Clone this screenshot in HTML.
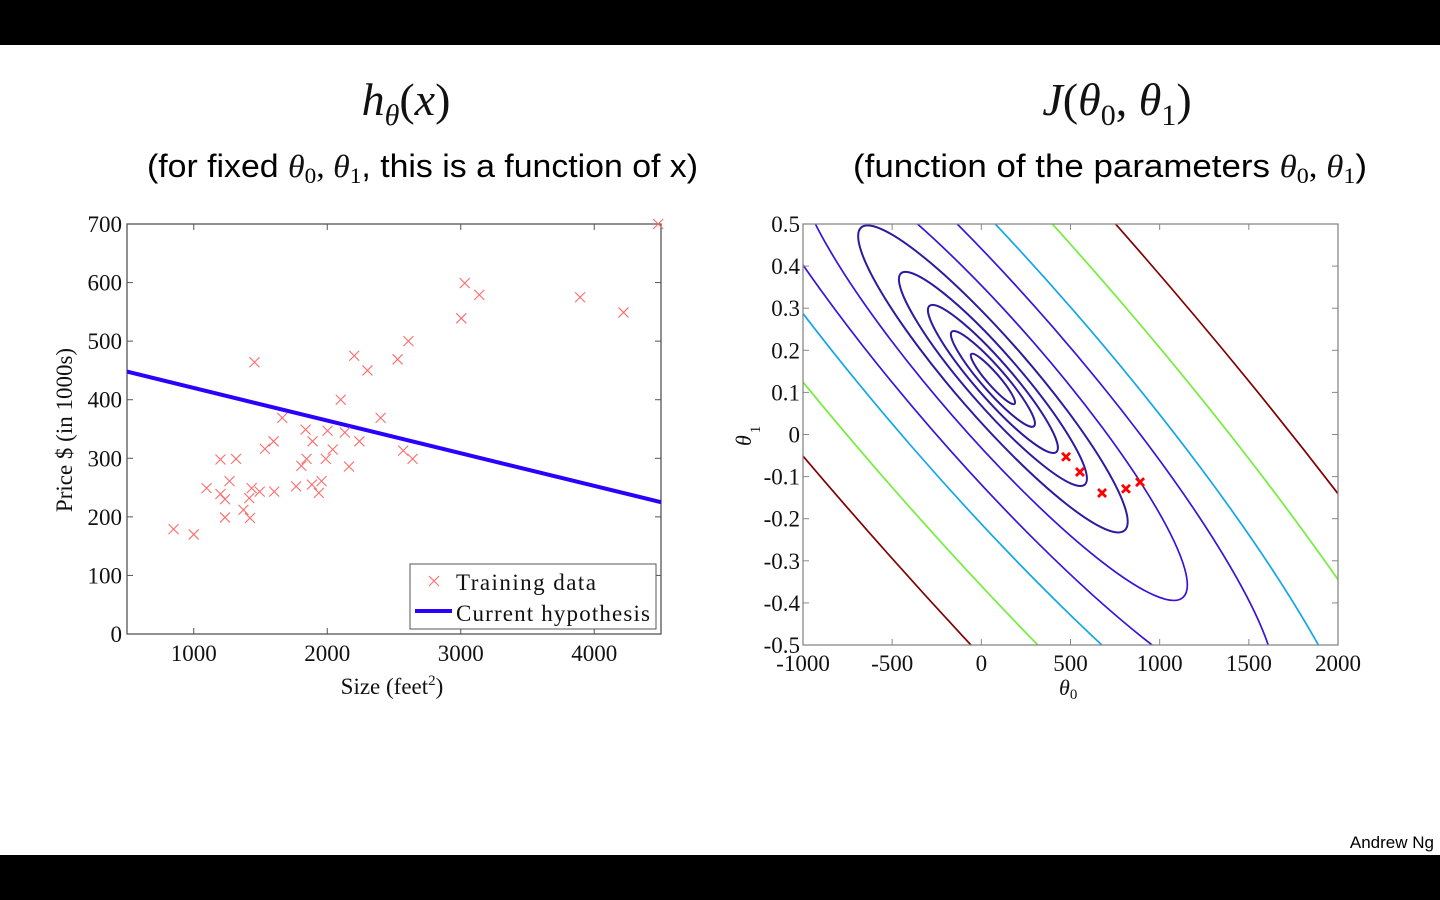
<!DOCTYPE html>
<html><head><meta charset="utf-8"><style>
html,body{margin:0;padding:0;background:#fff;width:1440px;height:900px;overflow:hidden}
svg{display:block;position:absolute;left:0;top:0}
.tk{font-family:"Liberation Serif",serif;font-size:23px;fill:#111}
.mt{font-family:"Liberation Serif",serif;font-style:italic;fill:#111}
.sb{font-family:"Liberation Sans",sans-serif;font-size:32px;fill:#000}
</style></head><body>
<svg id="s" width="1440" height="900" viewBox="0 0 1440 900" xmlns="http://www.w3.org/2000/svg">
<defs>
<clipPath id="cl"><rect x="127" y="224" width="534" height="410"/></clipPath>
<clipPath id="cr"><rect x="803" y="224" width="535" height="421"/></clipPath>
</defs>
<rect x="0" y="0" width="1440" height="45" fill="#000"/>
<rect x="0" y="855" width="1440" height="45" fill="#000"/>
<text x="406" y="115" text-anchor="middle" class="mt" font-size="46">h<tspan font-size="30" dy="10">θ</tspan><tspan dy="-10" font-style="normal">(</tspan>x<tspan font-style="normal">)</tspan></text>
<text x="147" y="177" textLength="551" lengthAdjust="spacingAndGlyphs" class="sb">(for fixed <tspan class="mt" font-size="32">θ</tspan><tspan font-family="Liberation Serif" font-size="22" dy="6">0</tspan><tspan dy="-6" font-family="Liberation Serif">, </tspan><tspan class="mt" font-size="32">θ</tspan><tspan font-family="Liberation Serif" font-size="22" dy="6">1</tspan><tspan dy="-6">, this is a function of x)</tspan></text>
<text x="1117" y="115" text-anchor="middle" class="mt" font-size="46">J<tspan font-style="normal">(</tspan>θ<tspan font-size="30" font-style="normal" dy="10">0</tspan><tspan dy="-10" font-style="normal">, </tspan>θ<tspan font-size="30" font-style="normal" dy="10">1</tspan><tspan dy="-10" font-style="normal">)</tspan></text>
<text x="853" y="177" textLength="514" lengthAdjust="spacingAndGlyphs" class="sb">(function of the parameters  <tspan class="mt" font-size="32">θ</tspan><tspan font-family="Liberation Serif" font-size="22" dy="6">0</tspan><tspan dy="-6" font-family="Liberation Serif">, </tspan><tspan class="mt" font-size="32">θ</tspan><tspan font-family="Liberation Serif" font-size="22" dy="6">1</tspan><tspan dy="-6">)</tspan></text>
<text x="1434" y="848" text-anchor="end" font-family="Liberation Sans, sans-serif" font-size="17" fill="#000">Andrew Ng</text>
<g id="L"></g>
<g id="R"></g>
</svg>
<script>
// ---- left chart data ----
const sizes=[849,1000,1096,1200,1317,1200,1234,1268,1234,1372,1421,1416,1434,1494,1603,1455,1533,1598,1663,1767,1806,1845,1838,1890,1885,1937,1957,1989,2002,2041,2101,2132,2163,2202,2241,2301,2400,2527,2569,2608,2639,3004,3030,3139,3894,4219,4479];
const prices=[179,170,249,298,299,239,230,261,199,212,198,232,249,243,243,464,316,329,369,252,287,299,349,329,255,241,261,299,347,315,400,344,286,475,329,450,369,469,313,500,299,539,599,579,575,549,700];
const hypX=[500,4500];
const hypY=[448,225];
const xTicksL=[1000,2000,3000,4000];
const yTicksL=[0,100,200,300,400,500,600,700];
// ---- right chart data ----
const center=[65,0.132];
const levels=[1,3.6,8.6,18,37,77,162,288,559,974];
const levelColors=["#2e1a9e","#2e1a9e","#2e1a9e","#2e1a9e","#2e1a9e","#3a12dc","#3a12dc","#12a6ea","#74ee3c","#800000"];
const steps0=[475,553,677,811,890];
const steps1=[-0.053,-0.089,-0.139,-0.129,-0.113];
const xTicksR=[-1000,-500,0,500,1000,1500,2000];
const yTicksR=[0.5,0.4,0.3,0.2,0.1,0,-0.1,-0.2,-0.3,-0.4,-0.5];

const NS="http://www.w3.org/2000/svg";
function mk(p,t,a){const e=document.createElementNS(NS,t);for(const k in a)e.setAttribute(k,a[k]);p.appendChild(e);return e;}
const xL=v=>127+(v-500)/4000*534, yL=v=>634-v/700*410;
const xR=v=>803+(v+1000)/3000*535, yR=v=>224+(0.5-v)*421;

const L=document.getElementById('L');
let bx=mk(L,'rect',{x:127,y:224,width:534,height:410,fill:'none',stroke:'#555','stroke-width':1.3});


xTicksL.forEach(v=>{const x=xL(v);mk(L,'line',{x1:x,y1:634,x2:x,y2:628,stroke:'#555'});mk(L,'line',{x1:x,y1:224,x2:x,y2:230,stroke:'#555'});
 const t=mk(L,'text',{x:x,y:661,'text-anchor':'middle',class:'tk'});t.textContent=v;
 
 });
yTicksL.forEach(v=>{const y=yL(v);mk(L,'line',{x1:127,y1:y,x2:133,y2:y,stroke:'#555'});mk(L,'line',{x1:661,y1:y,x2:655,y2:y,stroke:'#555'});
 const t=mk(L,'text',{x:122,y:y+8,'text-anchor':'end',class:'tk'});t.textContent=v;
 
 });
let xt=mk(L,'text',{x:392,y:694,'text-anchor':'middle',class:'tk'});xt.innerHTML='Size (feet<tspan dy="-9" font-size="15">2</tspan><tspan dy="9">)</tspan>';


let yt=mk(L,'text',{x:0,y:0,'text-anchor':'middle',class:'tk',transform:'translate(72,430) rotate(-90)'});yt.textContent='Price $ (in 1000s)';


const gl=mk(L,'g',{'clip-path':'url(#cl)'});
let hl=mk(gl,'line',{x1:xL(hypX[0]),y1:yL(hypY[0]),x2:xL(hypX[1]),y2:yL(hypY[1]),stroke:'#2a00ff','stroke-width':4});


function cross(p,x,y,r,c,w,name){const g=mk(p,'path',{d:`M${x-r},${y-r}L${x+r},${y+r}M${x-r},${y+r}L${x+r},${y-r}`,stroke:c,'stroke-width':w,fill:'none'});
 
 }
sizes.forEach((s,i)=>cross(L,xL(s),yL(prices[i]),5,'#ff6b6b',1.1,'training-point'));
let lg=mk(L,'rect',{x:410,y:564,width:246,height:65,fill:'#fff',stroke:'#555','stroke-width':1});


cross(L,434,581,5,'#ff6b6b',1.1,'legend-marker-training');
let l1=mk(L,'text',{x:456,y:590,class:'tk',textLength:140});l1.textContent='Training data';


mk(L,'line',{x1:415,y1:611,x2:452,y2:611,stroke:'#2a00ff','stroke-width':4});
let l2=mk(L,'text',{x:456,y:621,class:'tk',textLength:194});l2.textContent='Current hypothesis';



const R=document.getElementById('R');
const gr=mk(R,'g',{'clip-path':'url(#cr)'});
const cx=xR(center[0]), cy=yR(center[1]);
levels.forEach((lv,i)=>{const a=33*Math.sqrt(lv), b=a/5.3;
 const e=mk(gr,'ellipse',{cx:cx,cy:cy,rx:a,ry:b,transform:`rotate(49 ${cx} ${cy})`,fill:'none',stroke:levelColors[i],'stroke-width':i<5?2:1.7});
 
 });
steps0.forEach((t,i)=>cross(R,xR(t),yR(steps1[i]),4,'#ff0000',2.8,'gradient-step'));
let bx2=mk(R,'rect',{x:803,y:224,width:535,height:421,fill:'none',stroke:'#888','stroke-width':1.3});


xTicksR.forEach(v=>{const x=xR(v);mk(R,'line',{x1:x,y1:645,x2:x,y2:639,stroke:'#888'});mk(R,'line',{x1:x,y1:224,x2:x,y2:230,stroke:'#888'});
 const t=mk(R,'text',{x:x,y:671,'text-anchor':'middle',class:'tk'});t.textContent=v;
 
 });
yTicksR.forEach(v=>{const y=yR(v);mk(R,'line',{x1:803,y1:y,x2:809,y2:y,stroke:'#888'});mk(R,'line',{x1:1338,y1:y,x2:1332,y2:y,stroke:'#888'});
 const t=mk(R,'text',{x:800,y:y+8,'text-anchor':'end',class:'tk'});t.textContent=(Math.abs(v)<1e-9?'0':String(v));
 
 });
let xr=mk(R,'text',{x:1059,y:695,class:'mt','font-size':22});xr.innerHTML='θ<tspan font-style="normal" font-size="15" dy="4">0</tspan>';


let yr=mk(R,'text',{x:0,y:0,class:'mt','font-size':22,transform:'translate(751,446) rotate(-90)'});yr.innerHTML='θ<tspan font-style="normal" font-size="15" dx="2" dy="9">1</tspan>';


</script>
</body></html>
